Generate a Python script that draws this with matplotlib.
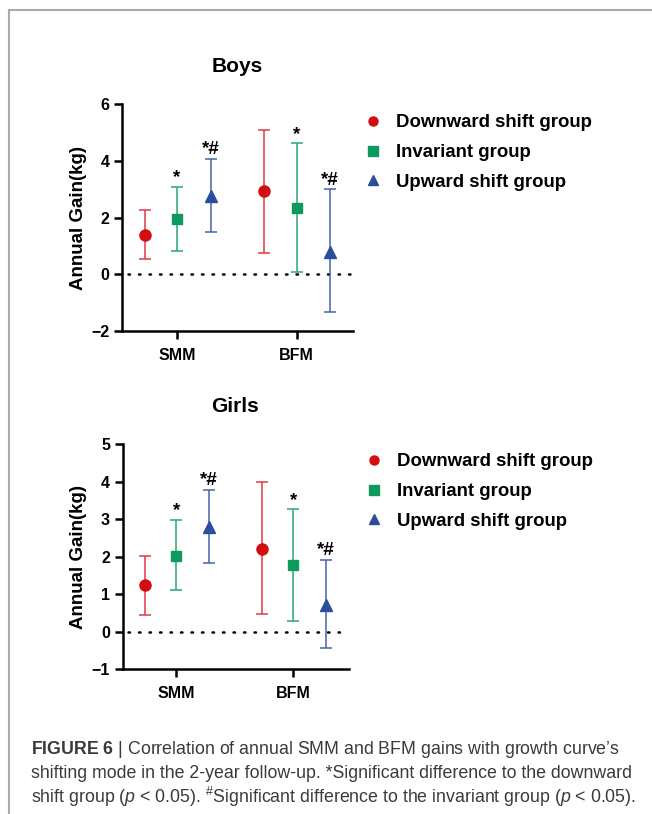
import matplotlib
matplotlib.use('Agg')
import matplotlib.pyplot as plt
from matplotlib.lines import Line2D

plt.rcParams['font.family'] = ['Liberation Sans', 'DejaVu Sans']
plt.rcParams['mathtext.fontset'] = 'custom'
plt.rcParams['mathtext.rm'] = 'Liberation Sans'
plt.rcParams['mathtext.it'] = 'Liberation Sans:italic'
plt.rcParams['mathtext.bf'] = 'Liberation Sans:bold'

#-------------------------------------------------------------------------------
# data (mean, upper and lower end of the error bar)
#-------------------------------------------------------------------------------
measures = ['SMM', 'BFM']
groups = ['Downward shift group', 'Invariant group', 'Upward shift group']

boys_mean = {'down': [1.39, 2.92], 'inv': [1.95, 2.32], 'up': [2.75, 0.77]}
boys_high = {'down': [2.26, 5.10], 'inv': [3.07, 4.61], 'up': [4.07, 2.99]}
boys_low = {'down': [0.53, 0.74], 'inv': [0.82, 0.07], 'up': [1.49, -1.32]}

girls_mean = {'down': [1.24, 2.21], 'inv': [2.03, 1.77], 'up': [2.78, 0.71]}
girls_high = {'down': [2.02, 3.99], 'inv': [2.97, 3.26], 'up': [3.78, 1.92]}
girls_low = {'down': [0.44, 0.46], 'inv': [1.10, 0.28], 'up': [1.82, -0.43]}

# significance marks (group, measure index, text)
sig_marks = [('inv', 0, '*'), ('up', 0, '*#'), ('inv', 1, '*'), ('up', 1, '*#')]

#-------------------------------------------------------------------------------
# styling
#-------------------------------------------------------------------------------
keys = ['down', 'inv', 'up']
offsets = {'down': -0.27, 'inv': 0.0, 'up': 0.28}
markers = {'down': 'o', 'inv': 's', 'up': '^'}
mcolors = {'down': '#d40d12', 'inv': '#0e9a5e', 'up': '#2a4e9c'}
ecolors = {'down': '#df3b42', 'inv': '#2aa874', 'up': '#4466ab'}
msizes = {'down': 8, 'inv': 7.5, 'up': 8}

fig = plt.figure(figsize=(6.52, 8.14), dpi=100)

# thin gray frame lines of the page
fig.add_artist(Line2D([9 / 652, 1], [1 - 10 / 814] * 2, color='#aaaaaa', lw=1.5))
fig.add_artist(Line2D([9 / 652] * 2, [0, 1 - 10 / 814], color='#aaaaaa', lw=1.5))


def panel(rect, title, mean, high, low, ylim, yticks, legend_x, legend_y):
    ax = fig.add_axes(rect)
    for k in keys:
        xs = [i + 1 + offsets[k] for i in range(len(measures))]
        yerr = [[m - l for m, l in zip(mean[k], low[k])],
                [h - m for m, h in zip(mean[k], high[k])]]
        ax.errorbar(xs, mean[k], yerr=yerr, fmt='none', ecolor=ecolors[k],
                    elinewidth=1.1, capsize=4, capthick=1.1, zorder=2)
        ax.plot(xs, mean[k], linestyle='none', marker=markers[k],
                color=mcolors[k], markersize=msizes[k], zorder=3)
    for k, i, txt in sig_marks:
        ax.annotate(txt, (i + 1 + offsets[k], high[k][i]), xytext=(0, 0.5),
                    textcoords='offset points', ha='center', va='bottom',
                    fontsize=13.5, fontweight='bold')
    ax.plot([0.59, 2.46], [0, 0], linestyle=(0, (0.6, 3.6)), color='black',
            lw=1.8, dash_capstyle='round', zorder=1)
    ax.set_xlim(0.54, 2.47)
    ax.set_ylim(ylim)
    ax.set_yticks(yticks)
    ax.set_yticklabels([str(t).replace('-', '\u2212') for t in yticks])
    ax.set_xticks([1, 2])
    ax.set_xticklabels(measures)
    ax.spines['top'].set_visible(False)
    ax.spines['right'].set_visible(False)
    for s in ['left', 'bottom']:
        ax.spines[s].set_linewidth(1.8)
    ax.tick_params(width=1.8, length=6, labelsize=11.5, pad=3)
    ax.tick_params(axis='x', pad=6)
    for lab in ax.get_xticklabels() + ax.get_yticklabels():
        lab.set_fontweight('bold')
    ax.set_ylabel('Annual Gain(kg)', fontsize=13.5, fontweight='bold', labelpad=3)
    ax.set_title(title, fontsize=15, fontweight='bold', pad=23)

    handles = [Line2D([], [], linestyle='none', marker=markers[k],
                      color=mcolors[k], markersize=6.5) for k in keys]
    fig.legend(handles, groups, loc='upper left',
               bbox_to_anchor=(legend_x, legend_y), frameon=False,
               prop={'weight': 'bold', 'size': 13.4}, handletextpad=0.75,
               labelspacing=0.68, handlelength=1.0, borderaxespad=0)
    return ax


panel([122 / 652, 1 - 331 / 814, 231 / 652, 227 / 814], 'Boys',
      boys_mean, boys_high, boys_low, (-2, 6), [-2, 0, 2, 4, 6],
      356 / 652, 1 - 107 / 814)
panel([122.5 / 652, 1 - 669.3 / 814, 226 / 652, 225.3 / 814], 'Girls',
      girls_mean, girls_high, girls_low, (-1, 5), [-1, 0, 1, 2, 3, 4, 5],
      357 / 652, 1 - 446 / 814)

#-------------------------------------------------------------------------------
# caption
#-------------------------------------------------------------------------------
cap_color = '#3a3a3a'
fig.text(31 / 652, 1 - 749 / 814,
         r"$\mathbf{FIGURE\ 6}$ | Correlation of annual SMM and BFM gains with growth curve" + "\u2019s",
         fontsize=12.8, color=cap_color, va='center')
fig.text(31 / 652, 1 - 773 / 814,
         "shifting mode in the 2-year follow-up. *Significant difference to the downward",
         fontsize=12.8, color=cap_color, va='center')
fig.text(31 / 652, 1 - 797 / 814,
         r"shift group ($\mathit{p}$ < 0.05). $^{\#}$Significant difference to the invariant group ($\mathit{p}$ < 0.05).",
         fontsize=12.8, color=cap_color, va='center')

plt.savefig('out.png', dpi=100)
